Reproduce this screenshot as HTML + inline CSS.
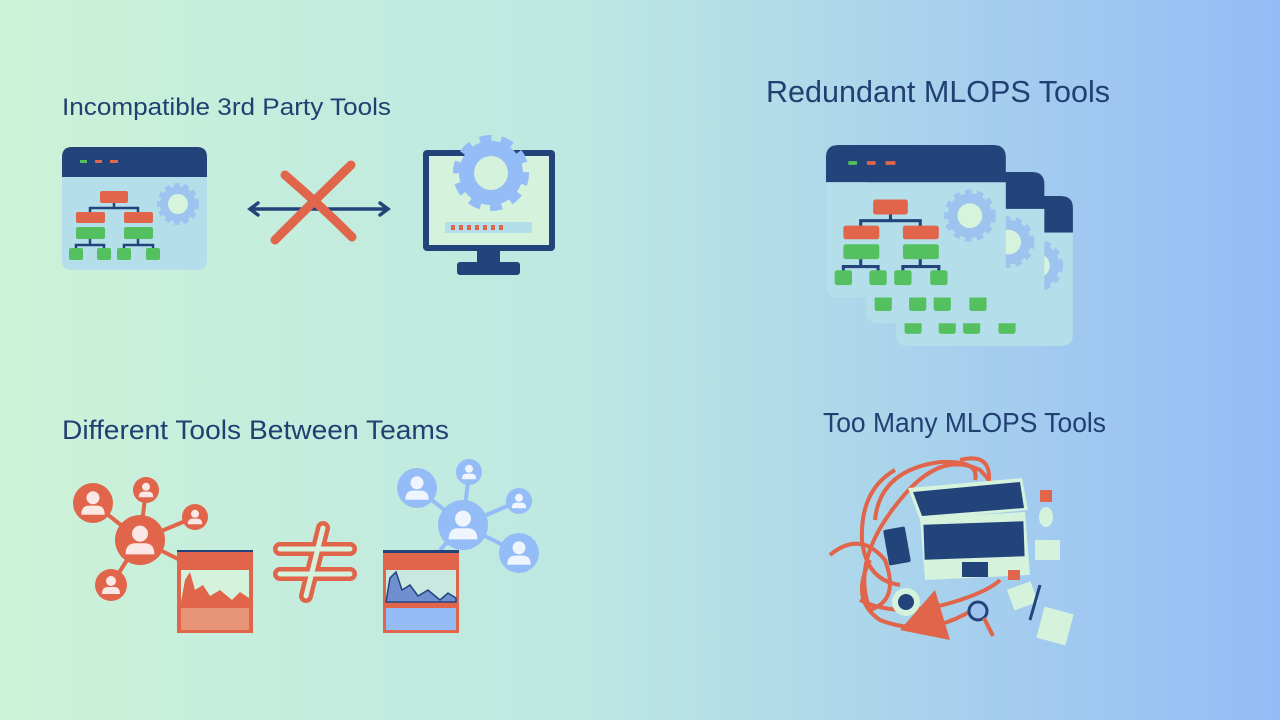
<!DOCTYPE html>
<html><head><meta charset="utf-8"><style>
html,body{margin:0;padding:0;width:1280px;height:720px;overflow:hidden}
svg{display:block}
text{font-family:"Liberation Sans",sans-serif;fill:#223f72}
</style></head><body>
<svg width="1280" height="720" viewBox="0 0 1280 720" xmlns="http://www.w3.org/2000/svg">
<defs>
<linearGradient id="bg" x1="0" y1="0" x2="1" y2="0">
<stop offset="0" stop-color="#cdf2d8"/><stop offset="0.45" stop-color="#bde8e2"/><stop offset="1" stop-color="#94bcf6"/>
</linearGradient>
<g id="win">
<path d="M0 10 Q0 0 10 0 H135 Q145 0 145 10 V30 H0Z" fill="#23447a"/>
<path d="M0 30 H145 V113 Q145 123 135 123 H10 Q0 123 0 113Z" fill="#b4dfea"/>
<rect x="18" y="13" width="7" height="3" fill="#55c060"/>
<rect x="33" y="13" width="7" height="3" fill="#e0654a"/>
<rect x="48" y="13" width="8" height="3" fill="#e0654a"/>
<g stroke="#23447a" stroke-width="2.5" fill="none">
<path d="M52 55 V61 M28 70 V61 H76 V70 M28 92 V98 M14 105 V98 H42 V105 M76 92 V98 M62 105 V98 H91 V105"/>
</g>
<rect x="38" y="44" width="28" height="12" rx="2" fill="#e0654a"/>
<rect x="14" y="65" width="29" height="11" rx="2" fill="#e0654a"/>
<rect x="62" y="65" width="29" height="11" rx="2" fill="#e0654a"/>
<rect x="14" y="80" width="29" height="12" rx="2" fill="#55c060"/>
<rect x="62" y="80" width="29" height="12" rx="2" fill="#55c060"/>
<rect x="7" y="101" width="14" height="12" rx="2" fill="#55c060"/>
<rect x="35" y="101" width="14" height="12" rx="2" fill="#55c060"/>
<rect x="55" y="101" width="14" height="12" rx="2" fill="#55c060"/>
<rect x="84" y="101" width="14" height="12" rx="2" fill="#55c060"/>
<circle cx="116" cy="57" r="18" fill="#9cc4ee" stroke="#9cc4ee" stroke-width="6" stroke-dasharray="5 4"/>
<circle cx="116" cy="57" r="10" fill="#d6f3dc"/>
</g>
<g id="person">
<circle cx="0" cy="-4" r="5" fill="#fff" opacity="0.85"/>
<path d="M-9 9 Q-9 2 -3 2 H3 Q9 2 9 9Z" fill="#fff" opacity="0.85"/>
</g>
</defs>
<rect width="1280" height="720" fill="url(#bg)"/>

<text x="62" y="115" font-size="24" textLength="329" lengthAdjust="spacingAndGlyphs">Incompatible 3rd Party Tools</text>
<text x="766" y="102" font-size="31" textLength="344" lengthAdjust="spacingAndGlyphs">Redundant MLOPS Tools</text>
<text x="62" y="439" font-size="27" textLength="387" lengthAdjust="spacingAndGlyphs">Different Tools Between Teams</text>
<text x="823" y="432" font-size="28" textLength="283" lengthAdjust="spacingAndGlyphs">Too Many MLOPS Tools</text>

<!-- top-left -->
<use href="#win" x="62" y="147"/>
<g stroke="#23447a" stroke-width="3.5" fill="none" stroke-linecap="round">
<path d="M252 209 H388 M258 203 L250 209 L258 215 M380 203 L388 209 L380 215"/>
</g>
<g stroke="#e0654a" stroke-width="9" stroke-linecap="round" fill="none">
<path d="M285 175 Q320 205 352 237"/>
<path d="M351 165 Q310 205 275 240"/>
</g>
<!-- monitor -->
<rect x="423" y="150" width="132" height="101" rx="4" fill="#23447a"/>
<rect x="429" y="156" width="120" height="89" fill="#d4f2dc"/>
<rect x="477" y="251" width="23" height="11" fill="#23447a"/>
<rect x="457" y="262" width="63" height="13" rx="3" fill="#23447a"/>
<circle cx="491" cy="173" r="32" fill="#94bcf6" stroke="#94bcf6" stroke-width="12" stroke-dasharray="11 9"/>
<circle cx="491" cy="173" r="17" fill="#d4f2dc"/>
<rect x="445" y="222" width="87" height="11" fill="#b4dfea"/>
<g fill="#e0654a"><rect x="451" y="225" width="4" height="5"/><rect x="459" y="225" width="4" height="5"/><rect x="467" y="225" width="4" height="5"/><rect x="475" y="225" width="4" height="5"/><rect x="483" y="225" width="4" height="5"/><rect x="491" y="225" width="4" height="5"/><rect x="499" y="225" width="4" height="5"/></g>

<!-- top-right stacked windows -->
<g transform="translate(896,196) scale(1.22)"><use href="#win"/></g>
<g transform="translate(866,172) scale(1.23)"><use href="#win"/></g>
<g transform="translate(826,145) scale(1.24)"><use href="#win"/></g>

<!-- bottom-left people red -->
<g stroke="#e0654a" stroke-width="4">
<path d="M140 540 L93 503 M140 540 L146 490 M140 540 L195 517 M140 540 L111 585 M140 540 L180 560"/>
</g>
<g fill="#e0654a">
<circle cx="140" cy="540" r="25"/><circle cx="93" cy="503" r="20"/><circle cx="146" cy="490" r="13"/><circle cx="195" cy="517" r="13"/><circle cx="111" cy="585" r="16"/>
</g>
<use href="#person" transform="translate(140,540) scale(1.6)"/>
<use href="#person" transform="translate(93,503) scale(1.3)"/>
<use href="#person" transform="translate(146,490) scale(0.8)"/>
<use href="#person" transform="translate(195,517) scale(0.8)"/>
<use href="#person" transform="translate(111,585) scale(1)"/>
<rect x="177" y="550" width="76" height="83" fill="#e0654a"/>
<rect x="177" y="550" width="76" height="2" fill="#23447a"/>
<rect x="181" y="570" width="68" height="32" fill="#d4f2dc"/>
<path d="M181 602 L185 580 L190 572 L195 590 L203 585 L210 596 L220 590 L232 600 L240 592 L249 598 V602Z" fill="#e0654a"/>
<rect x="181" y="608" width="68" height="22" fill="#e89478"/>

<!-- not equal -->
<g stroke="#e0654a" stroke-width="14" stroke-linecap="round" fill="none">
<path d="M280 549 H350 M280 574 H350 M323 528 L306 596"/>
</g>
<g stroke="#d4f2dc" stroke-width="5" stroke-linecap="round" fill="none">
<path d="M280 549 H350 M280 574 H350 M323 528 L306 596"/>
</g>

<!-- blue people -->
<g stroke="#94bcf6" stroke-width="4">
<path d="M463 525 L417 488 M463 525 L469 472 M463 525 L519 501 M463 525 L519 553 M463 525 L440 550"/>
</g>
<g fill="#94bcf6">
<circle cx="463" cy="525" r="25"/><circle cx="417" cy="488" r="20"/><circle cx="469" cy="472" r="13"/><circle cx="519" cy="501" r="13"/><circle cx="519" cy="553" r="20"/>
</g>
<use href="#person" transform="translate(463,525) scale(1.6)"/>
<use href="#person" transform="translate(417,488) scale(1.3)"/>
<use href="#person" transform="translate(469,472) scale(0.8)"/>
<use href="#person" transform="translate(519,501) scale(0.8)"/>
<use href="#person" transform="translate(519,553) scale(1.3)"/>
<rect x="383" y="550" width="76" height="83" fill="#e0654a"/>
<rect x="383" y="550" width="76" height="3" fill="#23447a"/>
<rect x="386" y="570" width="70" height="32" fill="#c8e8e0"/>
<path d="M386 602 L390 578 L396 572 L402 590 L410 585 L418 596 L428 590 L440 600 L448 593 L456 598 V602Z" fill="#6f8fd0" stroke="#23447a" stroke-width="1.5"/>
<rect x="386" y="608" width="70" height="22" fill="#94bcf6"/>

<!-- too many tools -->
<g fill="none" stroke="#e0654a" stroke-width="4">
<path d="M830 555 Q860 530 885 560 Q900 600 870 610 Q850 560 900 500 Q940 450 980 470 Q1000 490 990 500"/>
<path d="M875 520 Q880 470 940 462 Q980 460 975 480"/>
<path d="M860 600 Q900 620 960 600 Q990 590 1000 580"/>
<path d="M895 470 Q860 490 862 540 Q866 580 900 585"/>
<path d="M960 460 Q1000 450 985 500"/>
<path d="M870 560 Q850 600 880 620 Q930 640 980 605"/>
</g>
<path d="M908 488 L1022 478 L1028 510 L920 520Z" fill="#d4f2dc"/>
<path d="M913 492 L1020 482 L1024 508 L922 516Z" fill="#23447a"/>
<path d="M920 518 L1025 512 L1030 575 L925 580Z" fill="#d4f2dc"/>
<rect x="924" y="523" width="100" height="35" fill="#23447a" transform="rotate(-2 974 540)"/>
<rect x="962" y="562" width="26" height="15" fill="#23447a"/>
<rect x="886" y="528" width="22" height="36" rx="2" fill="#23447a" transform="rotate(-10 897 546)"/>
<circle cx="906" cy="602" r="14" fill="#d4f2dc"/><circle cx="906" cy="602" r="8" fill="#23447a"/>
<path d="M900 630 L935 590 L950 640Z" fill="#e0654a"/>
<circle cx="978" cy="611" r="9" fill="#9cc4ee" stroke="#23447a" stroke-width="3"/>
<path d="M984 618 L993 636" stroke="#e0654a" stroke-width="4"/>
<rect x="1010" y="585" width="25" height="22" fill="#d4f2dc" transform="rotate(-20 1022 596)"/>
<rect x="1040" y="610" width="30" height="32" fill="#d4f2dc" transform="rotate(15 1055 626)"/>
<rect x="1040" y="490" width="12" height="12" fill="#e0654a"/>
<ellipse cx="1046" cy="517" rx="7" ry="10" fill="#d4f2dc"/>
<rect x="1035" y="540" width="25" height="20" fill="#d4f2dc"/>
<rect x="1008" y="570" width="12" height="10" fill="#e0654a"/>
<rect x="1012" y="590" width="16" height="16" fill="#d4f2dc" transform="rotate(-20 1020 598)"/>
<path d="M1040 585 L1030 620" stroke="#23447a" stroke-width="3"/>
</svg>
</body></html>
